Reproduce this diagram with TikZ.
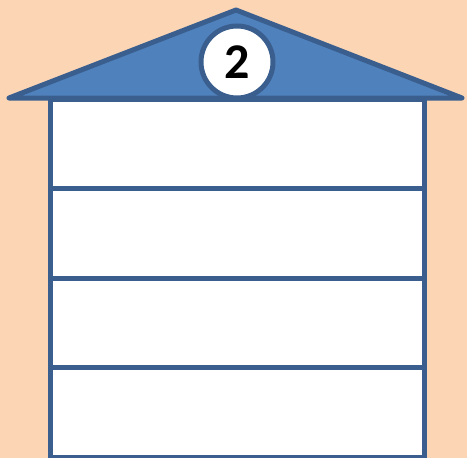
\documentclass[tikz,border=0pt]{standalone}
\usepackage{fontspec}
\setmainfont{Carlito}
\definecolor{peach}{HTML}{FCD5B5}
\definecolor{roofblue}{HTML}{4F81BD}
\definecolor{edgeblue}{HTML}{3A5F8E}
\tikzset{
  floorbox/.style={draw=edgeblue,fill=white,line width=5pt,rectangle,
    minimum width=374pt,minimum height=89.5pt,inner sep=0pt},
  badge/.style={draw=edgeblue,fill=white,line width=5pt,circle,
    minimum size=72pt,inner sep=0pt,font=\bfseries\fontsize{50}{50}\selectfont}
}
\begin{document}
\begin{tikzpicture}[x=1pt,y=-1pt]
\useasboundingbox[fill=peach] (0,0) rectangle (467,458);

\foreach \i in {1,...,4}
  \node[floorbox] (floor\i) at (237,{99+89.5*(\i-0.5)}) {};

\coordinate (eaveL) at (9,98);
\coordinate (ridge) at (236,10);
\coordinate (eaveR) at (462,98);
\draw[draw=edgeblue,fill=roofblue,line width=5pt,line join=round]
  (eaveL) -- (ridge) -- (eaveR) -- cycle;

\node[badge] (level) at (237,62) {2};
\end{tikzpicture}
\end{document}
